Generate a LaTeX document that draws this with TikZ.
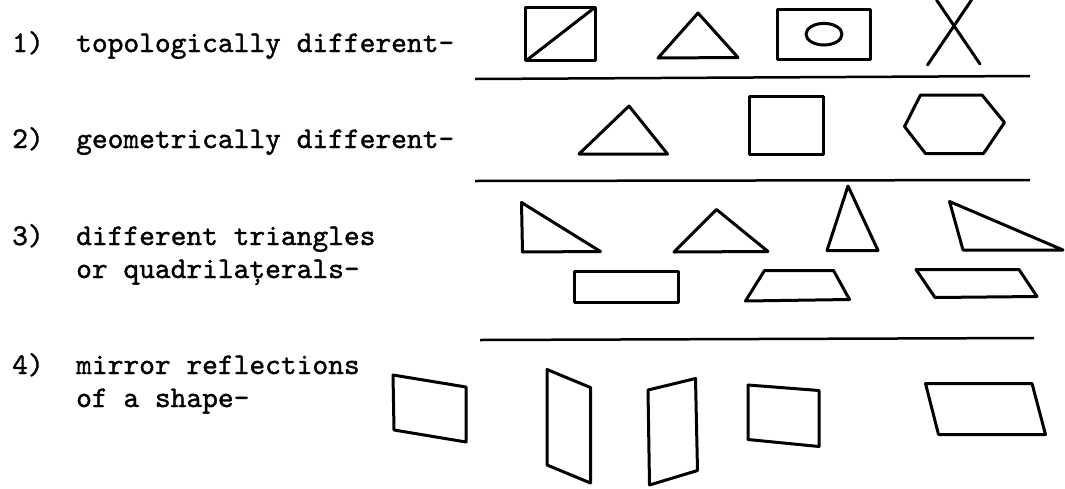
\documentclass[tikz,border=0pt]{standalone}
\usepackage{fontspec}
\newfontfamily\tw[FakeBold=1.2]{lmmono10-regular.otf}
\begin{document}
\begin{tikzpicture}[x=1pt,y=-1pt,
  txt/.style={anchor=base west,inner sep=0pt,font=\tw\fontsize{30}{33}\selectfont},
  shp/.style={draw=black,line width=3pt,line join=round,line cap=round},
  rule/.style={draw=black,line width=2.5pt}]
\useasboundingbox (0,0) rectangle (1065,488);
% texts
\node[txt] (n1) at (12,52) {1)};
\node[txt] (t1) at (76,52) {topologically different-};
\node[txt] (n2) at (12,148) {2)};
\node[txt] (t2) at (76,148) {geometrically different-};
\node[txt] (n3) at (12,245) {3)};
\node[txt] (t3a) at (76,245) {different triangles};
\node[txt] (t3b) at (76,278) {or quadrilațerals-};
\node[txt] (n4) at (12,374) {4)};
\node[txt] (t4a) at (76,374) {mirror reflections};
\node[txt] (t4b) at (76,407) {of a shape-};
% rules
\draw[rule] (475,79) -- (1030,76);
\draw[rule] (475,181) -- (1030,180);
\draw[rule] (480,340) -- (1034,338);
% row 1
\draw[shp] (525.5,7.5) rectangle (595,60.5);
\draw[shp] (527,60) -- (593.5,8.5);
\draw[shp] (698,13) -- (658,58) -- (738,57.5) -- cycle;
\draw[shp] (777,9.5) rectangle (870,59);
\draw[shp] (824,34.2) ellipse [x radius=18,y radius=10.8];
\draw[shp] (936.5,0) -- (980,64);
\draw[shp] (971.5,0) -- (927.5,65);
% row 2
\draw[shp] (629,106) -- (579,154) -- (667.5,154) -- cycle;
\draw[shp] (749.5,96.5) rectangle (823.5,154.5);
\draw[shp] (920.5,95) -- (982,95) -- (1004.5,122.5) -- (983.5,153.5) -- (925.5,153.5) -- (904.5,126.5) -- cycle;
% row 3 triangles
\draw[shp] (521.5,202.5) -- (522.5,252) -- (600.5,251.5) -- cycle;
\draw[shp] (716.5,209.5) -- (674,252) -- (768,251.5) -- cycle;
\draw[shp] (848,186) -- (827,250.5) -- (878,250.5) -- cycle;
\draw[shp] (949.5,201.5) -- (963,250) -- (1063,250) -- cycle;
% row 3 quadrilaterals
\draw[shp] (574.5,271.5) rectangle (678.5,302.5);
\draw[shp] (764.5,270.5) -- (833.5,270.5) -- (849.5,299.5) -- (745.5,301) -- cycle;
\draw[shp] (916,269.5) -- (1019,269.5) -- (1037,296.5) -- (935,297.5) -- cycle;
% row 4 mirror shapes
\draw[shp] (393,375) -- (466,387) -- (466,442) -- (394,430) -- cycle;
\draw[shp] (547,369.5) -- (590.5,387.5) -- (590.5,483) -- (547,465) -- cycle;
\draw[shp] (648,390) -- (695.5,378.5) -- (697.5,470.5) -- (649.5,485) -- cycle;
\draw[shp] (748,385) -- (819,390.5) -- (819,446.5) -- (748,439.5) -- cycle;
\draw[shp] (925.5,383.5) -- (1032,383.5) -- (1045.5,434.5) -- (938.5,434.5) -- cycle;
\end{tikzpicture}
\end{document}
